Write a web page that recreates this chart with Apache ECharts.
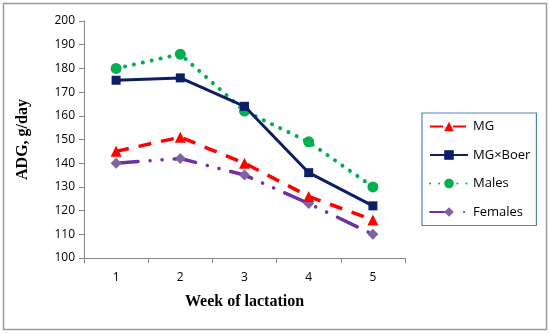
<!DOCTYPE html>
<html><head><meta charset="utf-8">
<script src="https://cdn.jsdelivr.net/npm/echarts@6/dist/echarts.min.js"></script>
<style>html,body{margin:0;padding:0;background:#fff}#c{width:550px;height:334px}</style>
</head><body><div id="c"></div>
<script>
const categories = ['1','2','3','4','5'];
const mg = [145, 151, 140, 126, 116];
const mgBoer = [175, 176, 164, 136, 122];
const males = [180, 186, 162, 149, 130];
const females = [140, 142, 135, 123, 110];
const seriesNames = ['MG', 'MG×Boer', 'Males', 'Females'];

const chart = echarts.init(document.getElementById('c'));
const tickFont = {fontFamily: 'Open Sans', fontSize: 12, color: '#000'};
chart.setOption({
  animation: false,
  graphic: [{type: 'rect', shape: {x: 3.5, y: 3.5, width: 543, height: 326}, style: {fill: 'none', stroke: '#9a9a9a', lineWidth: 1.5}, z: -1}],
  grid: {left: 84, top: 21, width: 321, height: 237},
  legend: {
    orient: 'vertical', left: 422, top: 113, itemWidth: 38, itemHeight: 12, itemGap: 15.5,
    padding: [7, 6, 7, 7],
    borderColor: '#4f81bd', borderWidth: 1.2, backgroundColor: '#fff',
    textStyle: {fontFamily: 'Open Sans', fontSize: 13, color: '#000'},
    data: seriesNames
  },
  xAxis: {
    type: 'category', data: categories, boundaryGap: true,
    name: 'Week of lactation', nameLocation: 'middle', nameGap: 36,
    nameTextStyle: {fontFamily: 'Liberation Serif', fontWeight: 'bold', fontSize: 16, color: '#000'},
    axisLine: {lineStyle: {color: '#868686', width: 1}},
    axisTick: {show: true, alignWithLabel: false, length: 5, lineStyle: {color: '#868686'}},
    axisLabel: Object.assign({margin: 14}, tickFont),
    splitLine: {show: false}
  },
  yAxis: {
    type: 'value', min: 100, max: 200, interval: 10,
    name: 'ADG, g/day', nameLocation: 'middle', nameGap: 53, nameRotate: 90,
    nameTextStyle: {fontFamily: 'Liberation Serif', fontWeight: 'bold', fontSize: 16, color: '#000'},
    axisLine: {show: true, lineStyle: {color: '#868686', width: 1}},
    axisTick: {show: true, length: 5, lineStyle: {color: '#868686'}},
    axisLabel: Object.assign({margin: 9}, tickFont),
    splitLine: {show: false}
  },
  series: [
    {name: 'MG', type: 'line', data: mg, symbol: 'triangle', symbolSize: 11,
     lineStyle: {color: '#ff0000', width: 3.5, type: [13, 10]}, itemStyle: {color: '#ff0000'}, z: 3},
    {name: 'MG×Boer', type: 'line', data: mgBoer, symbol: 'rect', symbolSize: 9,
     lineStyle: {color: '#0c1f66', width: 3}, itemStyle: {color: '#0c1f66'}, z: 4},
    {name: 'Males', type: 'line', data: males, symbol: 'circle', symbolSize: 11,
     lineStyle: {color: '#00b050', width: 4, type: [0.1, 9], cap: 'round'}, itemStyle: {color: '#00b050'}, z: 2},
    {name: 'Females', type: 'line', data: females, symbol: 'diamond', symbolSize: 11,
     lineStyle: {color: '#7030a0', width: 3.5, type: [22, 12, 0.1, 12, 0.1, 12], cap: 'round'}, itemStyle: {color: '#8064a2'}, z: 1}
  ]
});
</script></body></html>
